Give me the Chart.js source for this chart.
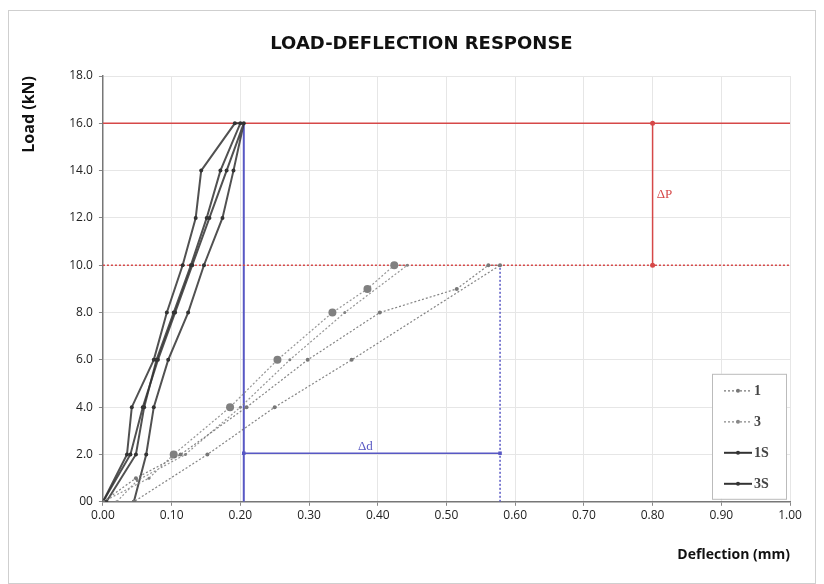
<!DOCTYPE html>
<html>
<head>
<meta charset="utf-8">
<script src="https://cdn.jsdelivr.net/npm/chart.js@4.4.0/dist/chart.umd.min.js"></script>
<style>
  body { margin: 0; background: #fff; }
  #wrap { position: relative; width: 824px; height: 584px; }
  #frame { position: absolute; left: 8px; top: 10px; width: 806px; height: 572px; border: 1px solid #cfcfcf; pointer-events: none; }
</style>
</head>
<body>
<div id="wrap">
  <canvas id="myChart" width="824" height="584"></canvas>
  <div id="frame"></div>
</div>
<script>
// tick labels
const xTickLabels = ['0.00','0.10','0.20','0.30','0.40','0.50','0.60','0.70','0.80','0.90','1.00'];
const yTickLabels = ['00','2.0','4.0','6.0','8.0','10.0','12.0','14.0','16.0','18.0'];
const chartTitle = 'LOAD-DEFLECTION RESPONSE';

// specimen 1 (loading then unloading)
const s1Defl = [0, 0.048, 0.113, 0.209, 0.298, 0.403, 0.515, 0.561, 0.578, 0.362, 0.250, 0.152, 0.045];
const s1Load = [0, 1, 2, 4, 6, 8, 9, 10, 10, 6, 4, 2, 0];

// specimen 3
const s3Defl = [0, 0.067, 0.103, 0.185, 0.254, 0.334, 0.385, 0.424, 0.443, 0.352, 0.272, 0.200, 0.120, 0.050, 0.020];
const s3Load = [0, 1, 2, 4, 6, 8, 9, 10, 10, 8, 6, 4, 2, 0.9, 0];

// specimen 1S
const s1sDefl = [0, 0.035, 0.042, 0.074, 0.093, 0.116, 0.135, 0.143, 0.192, 0.200, 0.171, 0.151, 0.128, 0.103, 0.078, 0.060, 0.048, 0.005];
const s1sLoad = [0, 2, 4, 6, 8, 10, 12, 14, 16, 16, 14, 12, 10, 8, 6, 4, 2, 0];

// specimen 3S
const s3sDefl = [0, 0.040, 0.058, 0.080, 0.105, 0.130, 0.155, 0.180, 0.205, 0.190, 0.174, 0.147, 0.124, 0.095, 0.074, 0.063, 0.045];
const s3sLoad = [0, 2, 4, 6, 8, 10, 12, 14, 16, 14, 12, 10, 8, 6, 4, 2, 0];

// reference lines (deflection, load)
const peakLineX = [0, 1];      const peakLineY = [16, 16];
const serviceLineX = [0, 1];   const serviceLineY = [10, 10];
const dPX = [0.80, 0.80];      const dPY = [10, 16];
const d1X = [0.205, 0.205];    const d1Y = [0, 16];
const d2X = [0.578, 0.578];    const d2Y = [0, 10];
const ddX = [0.205, 0.578];    const ddY = [2.05, 2.05];

function pts(xs, ys){
    let out = [];
    for(let i=0;i<xs.length;i++){
        out.push({x: xs[i], y: ys[i]});
    }
    return out;
}

const red = 'rgb(214,72,72)';
const blue = 'rgb(88,88,196)';

// title, delta labels and legend box (inside the plot, bottom right)
const boxLegend = {
    id: 'boxLegend',
    afterDraw(chart){
        const ctx = chart.ctx;
        const a = chart.chartArea;
        const xs = chart.scales.x, ys = chart.scales.y;
        ctx.save();
        ctx.font = 'bold 18px "DejaVu Sans"';
        ctx.fillStyle = '#111';
        ctx.textAlign = 'center';
        ctx.textBaseline = 'middle';
        ctx.fillText(chartTitle, (a.left + a.right)/2 - 25, a.top - 32);

        ctx.font = '13px "Liberation Serif"';
        ctx.fillStyle = red;
        ctx.textAlign = 'left';
        ctx.fillText('\u0394P', xs.getPixelForValue(0.806), ys.getPixelForValue(13.0));
        ctx.fillStyle = blue;
        ctx.textAlign = 'center';
        ctx.fillText('\u0394d', xs.getPixelForValue(0.382), ys.getPixelForValue(2.35));
        ctx.restore();

        const w = 74, h = 125;
        const left = a.right - w - 4, top = a.bottom - h - 3;
        ctx.save();
        ctx.fillStyle = '#fff';
        ctx.fillRect(left, top, w, h);
        ctx.strokeStyle = '#bbb';
        ctx.lineWidth = 1;
        ctx.strokeRect(left + 0.5, top + 0.5, w, h);
        const items = [
            {t: '1', dash: [2,2], c: '#777', lw: 1.2},
            {t: '3', dash: [2,2], c: '#888', lw: 1.2},
            {t: '1S', dash: [], c: '#333', lw: 2},
            {t: '3S', dash: [], c: '#333', lw: 2}
        ];
        ctx.font = 'bold 14px "Liberation Serif"';
        ctx.textBaseline = 'middle';
        for(let i=0;i<items.length;i++){
            const yy = top + 17 + i*31;
            ctx.setLineDash(items[i].dash);
            ctx.strokeStyle = items[i].c;
            ctx.lineWidth = items[i].lw;
            ctx.beginPath();
            ctx.moveTo(left + 12, yy);
            ctx.lineTo(left + 40, yy);
            ctx.stroke();
            ctx.setLineDash([]);
            ctx.fillStyle = items[i].c;
            ctx.beginPath();
            ctx.arc(left + 26, yy, 2, 0, Math.PI*2);
            ctx.fill();
            ctx.fillStyle = '#444';
            ctx.fillText(items[i].t, left + 42, yy + 1);
        }
        ctx.restore();
    }
};

var ctx = document.getElementById('myChart').getContext('2d');
var chart = new Chart(ctx, {
    type: 'scatter',
    data: {
        datasets: [
        {
            label: '1',
            data: pts(s1Defl, s1Load),
            showLine: true,
            borderColor: 'rgba(110,110,110,0.85)',
            borderWidth: 1.2,
            borderDash: [2,2],
            pointRadius: 2,
            pointBackgroundColor: '#777',
            pointBorderWidth: 0
        },
        {
            label: '3',
            data: pts(s3Defl, s3Load),
            showLine: true,
            borderColor: 'rgba(130,130,130,0.85)',
            borderWidth: 1.2,
            borderDash: [2,2],
            pointRadius: (c) => (c.dataIndex <= 7 && c.dataIndex > 1) ? 4 : 1.5,
            pointBackgroundColor: '#808080',
            pointBorderWidth: 0
        },
        {
            label: '1S',
            data: pts(s1sDefl, s1sLoad),
            showLine: true,
            borderColor: 'rgba(50,50,50,0.85)',
            borderWidth: 2,
            pointRadius: 2,
            pointBackgroundColor: '#333',
            pointBorderWidth: 0
        },
        {
            label: '3S',
            data: pts(s3sDefl, s3sLoad),
            showLine: true,
            borderColor: 'rgba(50,50,50,0.85)',
            borderWidth: 2,
            pointRadius: 2,
            pointBackgroundColor: '#333',
            pointBorderWidth: 0
        },
        { data: pts(peakLineX, peakLineY), showLine: true, borderColor: red, borderWidth: 1.5, pointRadius: 0 },
        { data: pts(serviceLineX, serviceLineY), showLine: true, borderColor: red, borderWidth: 1.5, borderDash: [2,2], pointRadius: 0 },
        { data: pts(dPX, dPY), showLine: true, borderColor: red, borderWidth: 1.5, pointRadius: 2.5, pointBackgroundColor: red, pointBorderWidth: 0 },
        { data: pts(d1X, d1Y), showLine: true, borderColor: blue, borderWidth: 2, pointRadius: 0 },
        { data: pts(d2X, d2Y), showLine: true, borderColor: blue, borderWidth: 1.5, borderDash: [2,2], pointRadius: 0 },
        { data: pts(ddX, ddY), showLine: true, borderColor: blue, borderWidth: 1.5, pointRadius: 2.5, pointStyle: 'rect', pointBackgroundColor: blue, pointBorderWidth: 0 }
        ]
    },
    options: {
        responsive: false,
        animation: false,
        layout: { padding: { left: 18, right: 34, top: 76, bottom: 17 } },
        plugins: {
            legend: { display: false },
            tooltip: { enabled: false },
            title: { display: false }
        },
        scales: {
            x: {
                type: 'linear',
                min: 0, max: 1,
                ticks: {
                    stepSize: 0.1,
                    color: '#222',
                    font: { family: 'Open Sans', size: 12 },
                    callback: (v, i) => xTickLabels[i]
                },
                grid: { color: '#e6e6e6', tickColor: '#888', tickLength: 4 },
                border: { color: '#777', width: 1.5 },
                title: {
                    display: true,
                    text: 'Deflection (mm)',
                    align: 'end',
                    color: '#111',
                    font: { family: 'Open Sans', size: 14, weight: 'bold' },
                    padding: { top: 20 }
                }
            },
            y: {
                min: 0, max: 18,
                ticks: {
                    stepSize: 2,
                    color: '#222',
                    font: { family: 'Open Sans', size: 12 },
                    padding: 6,
                    callback: (v, i) => yTickLabels[i]
                },
                grid: { color: '#e6e6e6', tickColor: '#888', tickLength: 4 },
                border: { color: '#777', width: 1.5 },
                title: {
                    display: true,
                    text: 'Load (kN)',
                    align: 'end',
                    color: '#111',
                    font: { family: 'Open Sans', size: 16, weight: 'bold' },
                    padding: { top: 2, bottom: 24 }
                }
            }
        }
    },
    plugins: [boxLegend]
});
</script>
</body>
</html>
